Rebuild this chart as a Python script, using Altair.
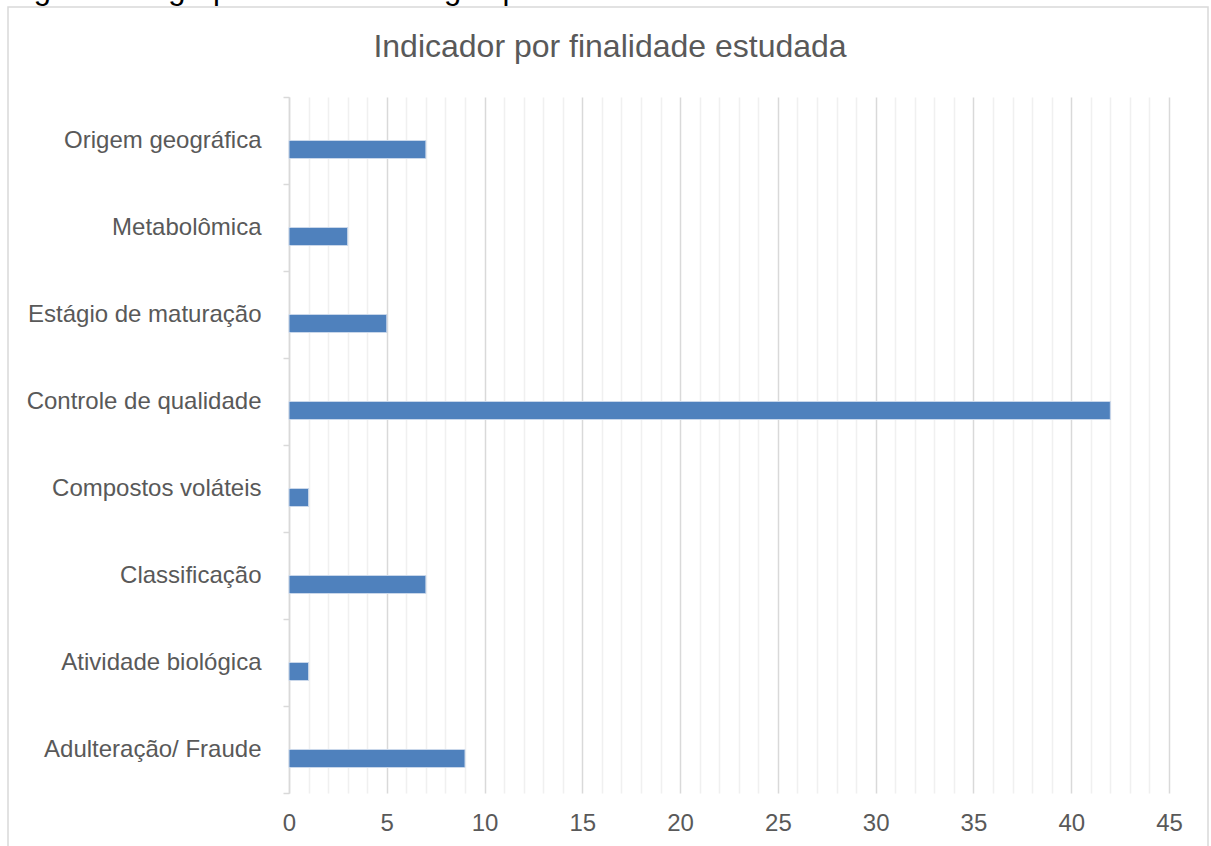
import altair as alt
import pandas as pd

categories = [
    "Origem geográfica",
    "Metabolômica",
    "Estágio de maturação",
    "Controle de qualidade",
    "Compostos voláteis",
    "Classificação",
    "Atividade biológica",
    "Adulteração/ Fraude",
]
values = [7, 3, 5, 42, 1, 7, 1, 9]
x_ticks = list(range(0, 46))

title_text = "Indicador por finalidade estudada"
caption_text = "Figura 4 - Agrupamento dos artigos por finalidade"

df = pd.DataFrame({"cat": categories, "val": values})

FONT = "Liberation Sans"
GREY = "#595959"

bars = alt.Chart(df).mark_bar(
    height=18, yOffset=9, color="#4f81bd", stroke="#c9d7ea", strokeWidth=1
).encode(
    x=alt.X(
        "val:Q",
        scale=alt.Scale(domain=[0, 45], nice=False, zero=True),
        axis=alt.Axis(
            title=None,
            values=x_ticks,
            labelExpr="datum.value % 5 === 0 ? datum.label : ''",
            labelOverlap=False,
            labelFlush=False,
            labelFont=FONT,
            labelFontSize=24,
            labelColor=GREY,
            labelPadding=18,
            domain=False,
            ticks=False,
            grid=True,
            gridColor={"condition": {"test": "datum.value % 5 === 0", "value": "#d9d9d9"}, "value": "#f0f0f0"},
            gridWidth=1.5,
        ),
    ),
    y=alt.Y(
        "cat:N",
        sort=categories,
        scale=alt.Scale(paddingInner=0, paddingOuter=0),
        axis=alt.Axis(
            title=None,
            labelFont=FONT,
            labelFontSize=24,
            labelColor=GREY,
            labelPadding=22,
            labelLimit=0,
            tickBand="extent",
            tickSize=6,
            tickColor="#d9d9d9",
            tickWidth=1.5,
            domainColor="#d9d9d9",
            domainWidth=1.5,
            grid=False,
        ),
    ),
)

one = alt.Data(values=[{}])

border = alt.Chart(one).mark_rect(fill=None, stroke="#d9d9d9", strokeWidth=1.5).encode(
    x=alt.value(-281), x2=alt.value(919), y=alt.value(-90), y2=alt.value(770)
)

title = alt.Chart(one).mark_text(
    text=title_text, font=FONT, fontSize=32, color=GREY, align="center", baseline="middle"
).encode(x=alt.value(321), y=alt.value(-50))

caption = alt.Chart(one).mark_text(
    text=caption_text, font=FONT, fontSize=31, color="#000000", align="left", baseline="alphabetic"
).encode(x=alt.value(-281), y=alt.value(-98))

chart = alt.layer(border, bars, title, caption).properties(
    width=880,
    height=696,
    autosize=alt.AutoSizeParams(type="none"),
    padding={"left": 289, "top": 97, "right": 42, "bottom": 53},
).configure_view(stroke=None)

chart.save("out.html", embed_options={"renderer": "svg", "actions": False})
